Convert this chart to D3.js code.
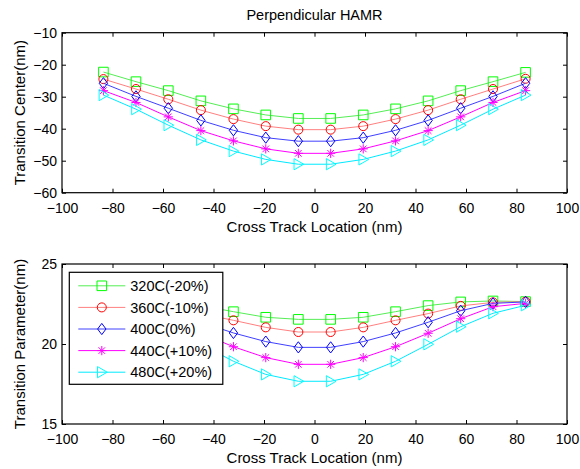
<!DOCTYPE html>
<html>
<head>
<meta charset="utf-8">
<script src="https://cdn.jsdelivr.net/npm/d3@7"></script>
<style>
  html, body { margin: 0; padding: 0; background: #fff; }
  svg { display: block; font-family: "Liberation Sans", Arial, sans-serif; }
</style>
</head>
<body>
<svg id="chart" width="580" height="469"></svg>
<script>
// Cross-track sample positions (nm)
const crossTrack = [-83.6, -70.7, -57.9, -45.0, -32.1, -19.3, -6.4, 6.4, 19.3, 32.1, 45.0, 57.9, 70.7, 83.6];

// Series labels (anisotropy temperature offsets)
const seriesNames = ["320C(-20%)", "360C(-10%)", "400C(0%)", "440C(+10%)", "480C(+20%)"];
const seriesColors = ["#00ff00", "#ff0000", "#0000ff", "#ff00ff", "#00ffff"];
const seriesLineColors = ["#55ee55", "#ff8080", "#4040ff", "#ff00ff", "#00eaff"];
const seriesMarkers = ["square", "circle", "diamond", "asterisk", "triangleRight"];

// Transition center (nm)
const center320 = [-22.3, -25.3, -28.1, -31.3, -33.8, -35.7, -36.8, -36.8, -35.7, -33.8, -31.3, -28.1, -25.3, -22.4];
const center360 = [-24.5, -27.6, -30.8, -34.2, -37.0, -39.2, -40.3, -40.3, -39.2, -37.0, -34.2, -30.8, -27.6, -24.4];
const center400 = [-25.8, -29.9, -33.6, -37.4, -40.5, -42.8, -43.9, -43.9, -42.8, -40.5, -37.4, -33.6, -29.9, -25.8];
const center440 = [-28.1, -31.8, -36.3, -40.6, -43.8, -46.3, -47.7, -47.7, -46.3, -43.8, -40.6, -36.3, -31.8, -28.1];
const center480 = [-29.5, -33.9, -38.9, -43.5, -47.0, -49.6, -51.1, -51.1, -49.6, -47.0, -43.5, -38.9, -33.9, -29.5];

// Transition parameter (nm)
const param320 = [22.65, 22.69, 22.63, 22.40, 22.02, 21.67, 21.54, 21.54, 21.67, 22.02, 22.40, 22.63, 22.69, 22.65];
const param360 = [22.65, 22.60, 22.38, 21.90, 21.48, 21.04, 20.75, 20.75, 21.04, 21.48, 21.90, 22.38, 22.60, 22.65];
const param400 = [22.63, 22.54, 22.08, 21.36, 20.69, 20.15, 19.79, 19.79, 20.15, 20.69, 21.36, 22.08, 22.54, 22.63];
const param440 = [22.54, 22.33, 21.58, 20.67, 19.83, 19.15, 18.73, 18.73, 19.15, 19.83, 20.67, 21.58, 22.33, 22.54];
const param480 = [22.42, 21.92, 21.08, 19.98, 18.92, 18.10, 17.67, 17.67, 18.10, 18.92, 19.98, 21.08, 21.92, 22.42];

// Tick values
const xTicks = [-100, -80, -60, -40, -20, 0, 20, 40, 60, 80, 100];
const centerTicks = [-60, -50, -40, -30, -20, -10];
const paramTicks = [15, 20, 25];

const titleText = "Perpendicular HAMR";
const xLabel = "Cross Track Location (nm)";
const centerLabel = "Transition Center(nm)";
const paramLabel = "Transition Parameter(nm)";

const centerSeries = [center320, center360, center400, center440, center480];
const paramSeries = [param320, param360, param400, param440, param480];

const svg = d3.select("#chart");

// Marker path generators, centred on the origin
function markerPath(kind) {
  switch (kind) {
    case "square": return "M-4.8,-4.8H4.8V4.8H-4.8Z";
    case "circle": return d3.symbol(d3.symbolCircle, 64)();
    case "diamond": return "M0,-5.6L4.2,0L0,5.6L-4.2,0Z";
    case "asterisk": return "M0,-4.6V4.6M-4.6,0H4.6M-3.3,-3.3L3.3,3.3M-3.3,3.3L3.3,-3.3";
    case "triangleRight": return "M-4.3,-5.6L5.4,0L-4.3,5.6Z";
  }
}

function drawPanel(opts) {
  const { top, bottom, left, right, yDomain, yTicks, series, yLabel, legend } = opts;
  const x = d3.scaleLinear().domain([-100, 100]).range([left, right]);
  const y = d3.scaleLinear().domain(yDomain).range([bottom, top]);
  const g = svg.append("g");

  // data lines and markers
  const line = d3.line().x((d, i) => x(crossTrack[i])).y(d => y(d));
  series.forEach((vals, s) => {
    g.append("path")
      .attr("d", line(vals))
      .attr("fill", "none")
      .attr("stroke", seriesLineColors[s])
      .attr("stroke-width", 1);
    g.selectAll(null).data(vals).enter().append("path")
      .attr("d", markerPath(seriesMarkers[s]))
      .attr("transform", (d, i) => `translate(${x(crossTrack[i])},${y(d)})`)
      .attr("fill", "none")
      .attr("stroke", seriesColors[s])
      .attr("stroke-width", 1);
  });

  // axes with inward ticks on all four sides
  const styleAxis = sel => {
    sel.select(".domain").remove();
    sel.selectAll(".tick line").attr("stroke", "#000");
    sel.selectAll(".tick text").attr("fill", "#000").style("font-size", "14px");
  };
  g.append("g").attr("transform", `translate(0,${bottom})`)
    .call(d3.axisBottom(x).tickValues(xTicks).tickSizeInner(-4).tickSizeOuter(0).tickPadding(10))
    .call(styleAxis);
  g.append("g").attr("transform", `translate(0,${top})`)
    .call(d3.axisTop(x).tickValues(xTicks).tickSizeInner(-4).tickSizeOuter(0).tickFormat(""))
    .call(styleAxis);
  g.append("g").attr("transform", `translate(${left},0)`)
    .call(d3.axisLeft(y).tickValues(yTicks).tickSizeInner(-4).tickSizeOuter(0).tickPadding(5))
    .call(styleAxis);
  g.append("g").attr("transform", `translate(${right},0)`)
    .call(d3.axisRight(y).tickValues(yTicks).tickSizeInner(-4).tickSizeOuter(0).tickFormat(""))
    .call(styleAxis);
  g.selectAll(".tick text").attr("font-family", null);

  g.append("rect")
    .attr("x", left).attr("y", top)
    .attr("width", right - left).attr("height", bottom - top)
    .attr("fill", "none").attr("stroke", "#000").attr("stroke-width", 1.2);

  g.append("text")
    .attr("x", (left + right) / 2).attr("y", bottom + 39)
    .attr("text-anchor", "middle").style("font-size", "15px")
    .text(xLabel);
  g.append("text")
    .attr("transform", `translate(24.5,${(top + bottom) / 2}) rotate(-90)`)
    .attr("text-anchor", "middle").style("font-size", "15px")
    .text(yLabel);

  if (legend) {
    const lg = g.append("g");
    lg.append("rect")
      .attr("x", legend.x).attr("y", legend.y)
      .attr("width", legend.w).attr("height", legend.h)
      .attr("fill", "#fff").attr("stroke", "#000").attr("stroke-width", 1.2);
    seriesNames.forEach((name, s) => {
      const cy = legend.y + 13.5 + s * 21.6;
      lg.append("line")
        .attr("x1", legend.x + 9).attr("x2", legend.x + 56)
        .attr("y1", cy).attr("y2", cy)
        .attr("stroke", seriesLineColors[s]).attr("stroke-width", 1);
      lg.append("path")
        .attr("d", markerPath(seriesMarkers[s]))
        .attr("transform", `translate(${legend.x + 32.5},${cy})`)
        .attr("fill", "none").attr("stroke", seriesColors[s]).attr("stroke-width", 1);
      lg.append("text")
        .attr("x", legend.x + 61).attr("y", cy).attr("dy", "0.36em")
        .style("font-size", "14.5px")
        .text(name);
    });
  }
  return x;
}

const xTop = drawPanel({
  top: 32.7, bottom: 192.7, left: 62, right: 567,
  yDomain: [-60, -10], yTicks: centerTicks, series: centerSeries, yLabel: centerLabel
});

drawPanel({
  top: 264, bottom: 424, left: 62, right: 567,
  yDomain: [15, 25], yTicks: paramTicks, series: paramSeries, yLabel: paramLabel,
  legend: { x: 69.3, y: 272.3, w: 153.5, h: 112 }
});

svg.append("text")
  .attr("x", xTop(0)).attr("y", 19.5)
  .attr("text-anchor", "middle").style("font-size", "14.5px")
  .text(titleText);
</script>
</body>
</html>
